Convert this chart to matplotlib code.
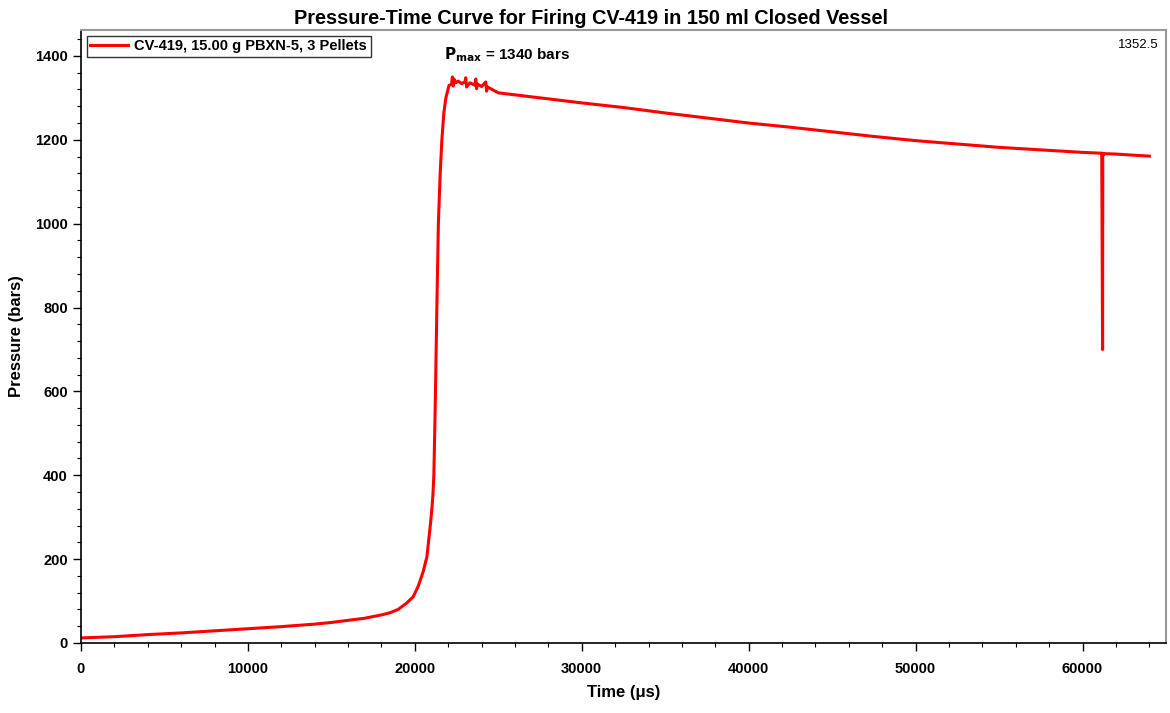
import numpy as np
import matplotlib
matplotlib.use("Agg")
import matplotlib.pyplot as plt
from matplotlib.ticker import MultipleLocator

# data
time_us = [0, 2000, 4000, 6000, 8000, 10000, 12000, 14000, 15000, 16000,
           17000, 18000, 18500, 19000, 19500, 19900, 20200, 20500, 20720,
           20900, 21000, 21080, 21140, 21220, 21320, 21410, 21520, 21620,
           21740, 21860, 22050, 22200,
           22250, 22300, 22350, 22450, 22600, 22800, 23000, 23050, 23100,
           23300, 23600, 23650, 23700, 23750, 24000, 24250, 24300, 24350,
           25000, 27500, 30000, 32500, 35000, 37500, 40000, 42500, 45000,
           47500, 50000, 52500, 55000, 57500, 60000, 61150, 61200, 61210,
           61250, 61300, 62000, 64000]
pressure_bar = [12, 15, 20, 24, 29, 34, 39, 45, 49, 54,
                59, 67, 72, 80, 95, 110, 135, 170, 205,
                270, 310, 350, 400, 560, 800, 1000, 1120, 1200,
                1265, 1300, 1330, 1332,
                1350, 1328, 1345, 1336, 1340, 1334, 1338, 1348, 1326,
                1336, 1330, 1345, 1322, 1333, 1327, 1338, 1316, 1326,
                1312, 1300, 1288, 1277, 1264, 1252, 1240, 1230, 1219,
                1208, 1198, 1190, 1182, 1176, 1170, 1168, 700, 1168,
                1165, 1167, 1166, 1161]

title = "Pressure-Time Curve for Firing CV-419 in 150 ml Closed Vessel"
legend_label = "CV-419, 15.00 g PBXN-5, 3 Pellets"

plt.rcParams['font.family'] = ['Liberation Sans', 'DejaVu Sans']

fig = plt.figure(figsize=(11.7, 7.13), dpi=100)
ax = fig.add_axes([0.0692, 0.0982, 0.9274, 0.8598])

ax.plot(time_us, pressure_bar, color='#ff0000', linewidth=2.2, label=legend_label)

ax.set_xlim(0, 65000)
ax.set_ylim(0, 1462)
ax.xaxis.set_major_locator(MultipleLocator(10000))
ax.xaxis.set_minor_locator(MultipleLocator(2000))
ax.yaxis.set_major_locator(MultipleLocator(200))
ax.yaxis.set_minor_locator(MultipleLocator(40))
ax.tick_params(axis='both', which='major', direction='out', length=6, width=1,
               labelsize=10.5)
ax.tick_params(axis='x', which='major', pad=8)
ax.tick_params(axis='both', which='minor', direction='out', length=3, width=0.8)
for lab in ax.get_xticklabels() + ax.get_yticklabels():
    lab.set_fontweight('bold')

for side in ['top', 'right']:
    ax.spines[side].set_color('#999999')
    ax.spines[side].set_linewidth(1.5)
for side in ['left', 'bottom']:
    ax.spines[side].set_color('black')
    ax.spines[side].set_linewidth(1.2)

ax.set_xlabel('Time (μs)', fontsize=12, fontweight='bold', labelpad=6)
ax.set_ylabel('Pressure (bars)', fontsize=12, fontweight='bold', labelpad=8)
fig.suptitle(title, fontsize=14.3, fontweight='bold', x=0.505, y=0.988)

leg = ax.legend(loc='upper left', bbox_to_anchor=(0.0, 1.0), frameon=True,
                fancybox=False, edgecolor='black', handlelength=2.6,
                borderpad=0.25, handletextpad=0.4, borderaxespad=0.4,
                prop={'weight': 'bold', 'size': 10.5})
leg.get_frame().set_linewidth(1.0)

ax.text(0.335, 0.96, '$\\mathbf{P_{max}}$ = 1340 bars', transform=ax.transAxes,
        fontsize=11, fontweight='bold', va='center', ha='left')
ax.text(0.993, 0.975, '1352.5', transform=ax.transAxes, fontsize=9.5,
        va='center', ha='right')

fig.savefig('out.png', dpi=100)
